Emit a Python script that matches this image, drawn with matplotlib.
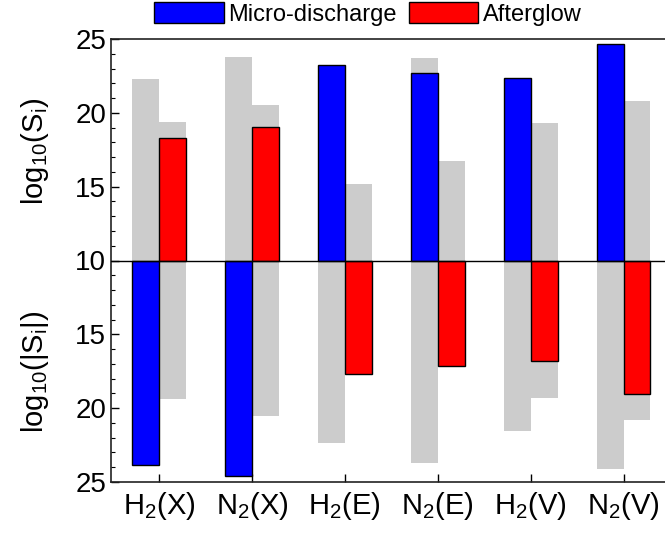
import numpy as np
import matplotlib
matplotlib.use('Agg')
import matplotlib.pyplot as plt
from matplotlib.ticker import MultipleLocator

plt.rcParams['font.family'] = ['Liberation Sans', 'DejaVu Sans']
plt.rcParams['mathtext.fontset'] = 'custom'
plt.rcParams['mathtext.rm'] = 'Liberation Sans'
plt.rcParams['mathtext.it'] = 'Liberation Sans:italic'

species = ['$\\mathregular{H_2}$(X)', '$\\mathregular{N_2}$(X)', '$\\mathregular{H_2}$(E)',
           '$\\mathregular{N_2}$(E)', '$\\mathregular{H_2}$(V)', '$\\mathregular{N_2}$(V)']
# signed log10 values: + upper half (S_i > 0), - lower half (S_i < 0)
micro = [-23.87, -24.61, 23.27, 22.73, 22.34, 24.66]
after = [18.30, 19.03, -17.71, -17.15, -16.79, -19.07]
# grey reference bars (shown both up and down)
grey_micro = [22.30, 23.80, 22.35, 23.72, 21.57, 24.10]
grey_after = [19.38, 20.52, 15.20, 16.75, 19.33, 20.81]

base = 10.0

def h(v):
    return np.sign(v) * (np.abs(v) - base)

x = np.arange(1, len(species) + 1)
w = 0.29

fig = plt.figure(figsize=(6.65, 5.40), dpi=100)
ax = fig.add_axes([111/665, 58/540, 559/665, 443/540])

gc = '#cccccc'
for g, off in [(grey_micro, -w/2), (grey_after, w/2)]:
    gh = np.array(g) - base
    ax.bar(x + off, gh, w, color=gc, zorder=1)
    ax.bar(x + off, -gh, w, color=gc, zorder=1)

ax.bar(x - w/2, h(np.array(micro)), w, color='#0000ff', edgecolor='black', lw=1, zorder=2, label='Micro-discharge')
ax.bar(x + w/2, h(np.array(after)), w, color='#ff0000', edgecolor='black', lw=1, zorder=2, label='Afterglow')
ax.axhline(0, color='black', lw=1, zorder=3)

ax.set_ylim(-15, 15)
ax.set_xlim(0.485, 6.5)
ax.yaxis.set_minor_locator(MultipleLocator(1))
ax.set_yticks(np.arange(-15, 16, 5))
ax.set_yticklabels([str(int(abs(t) + base)) for t in np.arange(-15, 16, 5)])
ax.set_xticks(x)
ax.set_xticklabels(species)
ax.tick_params(axis='both', which='major', direction='in', length=6, width=1, labelsize=20)
ax.tick_params(axis='x', which='major', labelsize=21, pad=6)
ax.tick_params(axis='y', which='minor', direction='in', length=3, width=0.8)
ax.tick_params(axis='x', which='minor', bottom=False)
for s in ax.spines.values():
    s.set_linewidth(1.2)
    s.set_color('#222222')

fig.text(35/665, 1 - 151/540, '$\\mathregular{log_{10}(S_i)}$', rotation=90, fontsize=21,
         ha='center', va='center')
fig.text(35/665, 1 - 372/540, '$\\mathregular{log_{10}(|S_i|)}$', rotation=90, fontsize=21,
         ha='center', va='center')

fig.legend(loc='center', bbox_to_anchor=(368/665, 1 - 14/540), ncol=2, frameon=False,
           fontsize=17, handlelength=2.95, handleheight=0.95, handletextpad=0.2,
           columnspacing=0.5, borderpad=0, borderaxespad=0)

fig.savefig('out.png', dpi=100)
